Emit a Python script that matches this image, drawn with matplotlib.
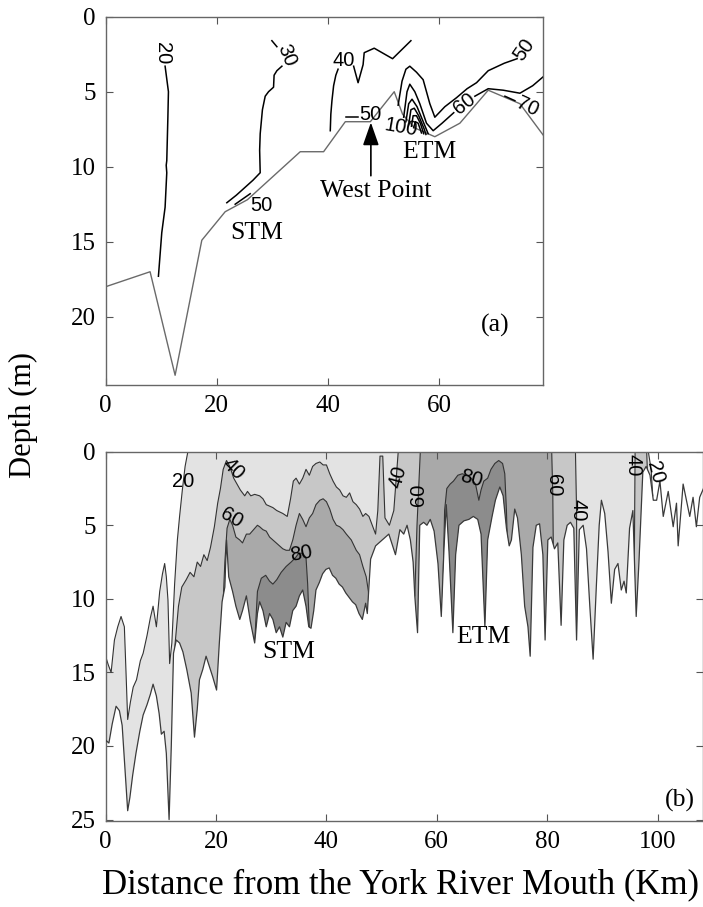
import numpy as np
import matplotlib
matplotlib.use('Agg')
import matplotlib.pyplot as plt
from matplotlib.patches import Polygon

plt.rcParams['font.family'] = 'Liberation Serif'
SANS = 'Liberation Sans'

# ---------------- panel (a): contour lines (distance km, depth m) ----------------
bathy_a = [(0.0, 18.0), (8.0, 17.0), (12.5, 23.9), (17.3, 14.9), (21.5, 13.0), (25.5, 12.2),
           (35.0, 9.0), (39.2, 9.0), (43.1, 7.0), (47.6, 7.0), (51.9, 5.0), (53.4, 6.5),
           (55.5, 7.4), (59.2, 8.0), (63.7, 7.1), (68.8, 4.9), (74.5, 5.8), (78.7, 7.9)]

a20 = [(10.7, 3.3), (11.3, 5.0), (11.2, 6.7), (11.0, 9.6), (10.9, 9.9), (11.0, 10.4),
       (10.7, 12.7), (10.1, 14.4), (9.5, 17.3)]
a30_top = [(29.9, 1.6), (30.8, 2.0)]
a30 = [(31.7, 3.3), (30.8, 3.6), (30.3, 3.9), (30.2, 4.7), (29.3, 5.0), (28.7, 5.3), (28.2, 6.2),
       (28.0, 7.0), (27.8, 7.8), (27.7, 8.9), (27.8, 10.4), (26.5, 10.9), (25.0, 11.4),
       (23.5, 11.9), (21.8, 12.4)]
a50_stm = [(23.3, 12.5), (26.0, 11.8)]
a40_left = [(40.4, 7.6), (40.5, 6.5), (40.7, 5.6), (41.0, 4.6), (41.4, 3.9), (41.8, 3.5)]
a40_right = [(44.6, 3.3), (45.4, 4.4), (46.3, 3.2), (46.5, 2.4), (48.3, 2.1), (51.6, 2.8), (54.9, 1.6)]
a50_dash = [(43.2, 6.7), (45.4, 6.7)]
a50 = [(52.6, 5.9), (53.3, 4.3), (54.0, 3.5), (54.7, 3.3), (55.9, 3.7), (57.1, 4.2), (57.7, 5.0),
       (58.3, 5.8), (59.2, 6.7), (61.0, 6.0), (63.1, 5.4), (65.0, 4.8), (66.7, 4.4), (68.8, 3.6),
       (71.7, 3.1), (74.0, 2.8)]
a60_left = [(53.6, 6.7), (54.2, 5.0), (54.7, 4.5), (55.6, 5.0), (56.5, 5.8), (57.7, 7.1),
            (58.9, 7.6), (60.5, 7.1), (62.6, 6.4)]
a60_right = [(66.4, 5.3), (68.8, 4.8), (71.5, 4.9), (74.5, 5.1), (76.8, 4.6), (78.7, 4.0)]
a70_dash = [(71.8, 5.3), (73.6, 5.6)]
a70 = [(54.0, 7.0), (54.5, 5.8), (55.1, 5.5), (56.0, 6.0), (57.0, 6.9), (58.0, 7.8)]
a80 = [(54.5, 7.2), (54.9, 6.2), (55.5, 6.1), (56.3, 6.6), (57.3, 7.5), (57.6, 7.85)]
a90 = [(55.0, 7.3), (55.3, 6.6), (55.9, 6.6), (56.6, 7.1), (57.2, 7.8)]
a100 = [(55.4, 7.4), (55.7, 7.0), (56.2, 7.1), (56.8, 7.75)]

# label text, x, depth, rotation
labels_a = [('20', 10.2, 2.4, -90), ('30', 32.5, 2.6, -68), ('40', 42.9, 2.9, 0),
            ('50', 47.7, 6.5, 0), ('50', 28.0, 12.6, 0), ('100', 53.1, 7.4, -10),
            ('60', 64.6, 5.8, 38), ('50', 75.3, 2.2, 55), ('70', 75.9, 6.0, -25)]

# ---------------- panel (b): filled contours ----------------
bottom_b = [(0.0, 19.6), (0.6, 19.8), (1.2, 18.5), (1.9, 17.3), (2.5, 17.6), (3.0, 18.6), (3.5, 21.5),
            (4.0, 24.4), (4.4, 23.5), (4.9, 22.0), (5.5, 20.5), (6.2, 19.0), (6.8, 17.9), (7.5, 17.2),
            (8.1, 16.5), (8.6, 15.8), (9.2, 16.6), (9.7, 17.8), (10.1, 19.2), (10.6, 19.0), (11.0, 20.5),
            (11.5, 25.0), (11.9, 20.0), (12.3, 13.7), (12.8, 12.8), (13.4, 13.0), (14.0, 13.6),
            (14.7, 14.8), (15.5, 16.4), (16.1, 19.4), (16.6, 17.5), (17.0, 15.5), (17.6, 14.8),
            (18.2, 13.9), (18.8, 14.6), (19.4, 15.3), (20.1, 16.2), (20.6, 13.0), (21.1, 10.2),
            (21.6, 9.2), (21.9, 6.0), (22.3, 8.5), (23.0, 9.5), (23.6, 10.5), (24.3, 11.4),
            (24.8, 10.8), (25.5, 9.8), (26.2, 11.5), (27.0, 13.0), (27.5, 11.0), (27.9, 10.2),
            (28.5, 10.8), (29.1, 11.9), (29.7, 11.0), (30.3, 11.4), (30.9, 12.3), (31.5, 11.9),
            (32.1, 12.6), (32.7, 11.6), (33.3, 11.9), (33.9, 10.8), (34.5, 10.5), (35.1, 9.8),
            (35.7, 9.4), (36.3, 10.5), (36.8, 11.9), (37.2, 12.0), (37.7, 10.8), (38.1, 9.4),
            (38.7, 8.9), (39.3, 8.3), (39.9, 8.0), (40.5, 7.9), (41.1, 8.4), (41.7, 8.6),
            (42.3, 9.0), (42.9, 9.2), (43.5, 9.6), (44.1, 9.9), (44.7, 10.2), (45.3, 10.4),
            (45.9, 11.0), (46.5, 11.4), (47.1, 10.3), (47.4, 11.0), (48.0, 7.3), (48.9, 6.4),
            (49.5, 6.2), (50.1, 6.0), (50.7, 5.8), (51.3, 5.6), (51.9, 6.3), (52.5, 7.0),
            (53.3, 5.3), (54.0, 5.6), (54.6, 5.0), (55.2, 6.0), (55.7, 7.5), (56.0, 9.8),
            (56.5, 12.3), (56.9, 5.0), (57.6, 4.8), (58.2, 5.0), (58.8, 4.6), (59.5, 5.4),
            (60.2, 7.6), (60.8, 11.2), (61.3, 6.5), (61.7, 3.6), (62.2, 6.8), (62.9, 12.3),
            (63.4, 7.0), (64.0, 5.0), (64.9, 4.7), (65.8, 4.6), (66.6, 4.4), (67.4, 4.6),
            (68.0, 5.6), (68.7, 11.9), (69.2, 6.0), (70.0, 4.4), (70.6, 3.3), (71.4, 2.4),
            (72.0, 3.0), (72.6, 5.2), (73.1, 6.4), (73.5, 6.0), (74.1, 3.9), (74.6, 4.5),
            (75.3, 7.0), (75.9, 10.5), (76.5, 11.9), (76.9, 13.9), (77.4, 6.5), (78.0, 5.0),
            (78.6, 4.9), (79.2, 7.0), (79.6, 12.8), (80.1, 6.0), (80.7, 5.8), (81.3, 6.6),
            (81.9, 6.2), (82.5, 11.8), (83.0, 6.0), (83.6, 5.0), (84.2, 4.8), (84.8, 5.2),
            (85.3, 12.8), (85.8, 5.3), (86.5, 5.0), (87.1, 6.6), (87.7, 10.5), (88.3, 14.1),
            (88.9, 9.0), (89.4, 5.0), (89.8, 3.3), (90.4, 4.2), (91.0, 6.8), (91.6, 10.3),
            (92.2, 8.0), (92.8, 7.6), (93.4, 9.4), (93.9, 8.8), (94.3, 9.6), (94.9, 5.2),
            (95.5, 4.0), (96.1, 11.2), (96.6, 7.5), (97.3, 1.4), (97.9, 1.0), (98.6, 1.6),
            (99.2, 3.3), (99.8, 3.3), (100.4, 2.0), (101.0, 4.4), (101.9, 2.7), (102.8, 5.1),
            (103.4, 3.5), (103.7, 6.4), (104.6, 2.2), (105.2, 3.3), (105.8, 4.4), (106.4, 3.1),
            (107.0, 5.1), (107.6, 3.1), (108.4, 2.4)]

b20_left = [(0.0, 13.9), (0.5, 14.5), (1.0, 15.0), (1.6, 12.8), (2.2, 11.9), (2.8, 11.2), (3.4, 11.9),
            (3.7, 15.0), (4.0, 18.2), (4.5, 17.0), (5.0, 16.0), (5.6, 15.5), (6.3, 14.2), (6.8, 13.7),
            (7.5, 12.5), (8.1, 11.3), (8.6, 10.5), (9.2, 11.9), (9.8, 9.5), (10.3, 8.3), (10.7, 7.6),
            (11.0, 8.5), (11.3, 10.1), (11.6, 14.4), (12.0, 13.0), (12.5, 9.0), (13.0, 6.0),
            (13.4, 4.4), (13.9, 2.6), (14.4, 1.0), (14.9, 0.0)]
b20_right = [(98.3, 0.0), (98.8, 1.2), (99.1, 3.0)]

b40_main = [(12.3, 16.0), (12.6, 13.0), (13.2, 10.5), (13.8, 9.2), (14.6, 8.7), (15.3, 8.2), (16.0, 8.5),
            (16.6, 7.5), (17.2, 7.8), (17.8, 7.0), (18.4, 7.4), (19.0, 6.5), (19.7, 5.1), (20.3, 3.5),
            (20.8, 2.5), (21.3, 1.2), (21.9, 0.6), (22.5, 1.0), (23.2, 1.8), (23.8, 2.2), (24.4, 2.6),
            (25.2, 3.0), (25.7, 2.7), (26.3, 3.0), (27.0, 2.9), (27.9, 3.0), (28.5, 3.2), (29.1, 3.6),
            (30.3, 3.8), (31.0, 4.0), (32.1, 4.2), (32.9, 4.4), (33.5, 3.2), (34.0, 2.0), (34.5, 1.8),
            (35.1, 2.2), (35.7, 1.8), (36.3, 1.2), (36.9, 1.6), (37.5, 1.0), (38.1, 0.8), (38.8, 0.7),
            (39.4, 0.9), (40.0, 0.9), (40.6, 1.5), (41.2, 2.0), (41.8, 2.4), (42.4, 2.6), (43.0, 3.0),
            (43.6, 3.1), (44.2, 2.8), (44.8, 3.4), (45.4, 3.6), (46.0, 3.9), (46.6, 4.4), (47.1, 4.2),
            (47.7, 4.4), (48.3, 5.0), (48.9, 5.6), (49.3, 4.0), (49.7, 0.3), (50.2, 0.3), (50.6, 4.5),
            (51.4, 5.0), (52.2, 4.0), (52.7, 1.5), (53.0, 0.0)]
b40_right = [(85.1, 0.0), (85.3, 4.0), (85.4, 12.8)]
b40_patch_l = [(95.7, 11.0), (95.9, 0.0)]
b40_patch_r = [(98.0, 0.0), (98.2, 2.0)]

b60_stm = [(21.2, 11.0), (21.6, 7.5), (22.0, 5.2), (22.5, 4.6), (23.0, 5.0), (23.6, 5.8), (24.3, 6.0),
           (24.8, 6.2), (25.5, 5.6), (26.1, 5.6), (26.8, 5.3), (27.5, 5.0), (27.9, 5.1), (28.5, 5.3),
           (29.1, 5.4), (29.7, 5.8), (30.3, 6.0), (31.2, 6.3), (32.1, 6.6), (32.7, 6.7), (33.3, 6.7),
           (33.9, 6.0), (34.5, 5.0), (35.1, 4.2), (35.7, 4.6), (36.3, 5.1), (36.9, 4.5), (37.5, 4.2),
           (38.1, 3.6), (38.8, 3.3), (39.4, 3.2), (40.0, 3.4), (40.6, 3.9), (41.2, 4.6), (41.8, 5.0),
           (42.4, 5.1), (43.0, 5.3), (43.6, 5.6), (44.5, 6.0), (45.4, 6.7), (46.0, 7.0), (46.6, 7.8),
           (47.2, 8.5), (47.6, 9.5), (48.0, 12.0)]
b60_etm_l = [(56.0, 9.8), (56.4, 5.0), (56.7, 2.5), (57.0, 0.0)]
b60_etm_r = [(80.8, 0.0), (81.0, 3.0), (81.1, 7.0)]

b80_stm = [(27.0, 13.0), (27.5, 9.5), (28.2, 8.6), (29.0, 8.4), (29.7, 8.8), (30.3, 9.0), (31.0, 8.7),
           (31.8, 8.2), (32.7, 7.8), (33.6, 7.5), (34.4, 7.2), (35.0, 6.9), (35.7, 6.9), (36.3, 7.2),
           (36.6, 9.0), (36.9, 12.0)]
b80_etm = [(61.0, 11.0), (61.4, 4.0), (61.8, 2.5), (62.4, 2.2), (63.0, 2.0), (63.8, 1.6), (64.6, 1.5),
           (65.4, 1.6), (66.2, 1.8), (67.0, 2.2), (67.6, 3.3), (68.0, 2.6), (68.5, 2.0), (69.2, 1.8),
           (69.8, 1.2), (70.5, 0.8), (71.2, 0.6), (71.9, 0.8), (72.3, 1.5), (72.6, 4.0), (72.9, 8.0)]

labels_b = [('20', 14.1, 2.0, 0), ('40', 23.1, 1.2, -45), ('60', 22.8, 4.5, -30), ('80', 35.5, 6.9, 10),
            ('40', 53.0, 1.7, 75), ('60', 56.7, 2.9, 90), ('80', 66.3, 1.8, -15), ('60', 81.1, 2.3, -90),
            ('40', 85.6, 4.0, -90), ('40', 95.6, 0.9, -90), ('20', 99.5, 1.4, -75)]

shade = {'20': '#e3e3e3', '40': '#c7c7c7', '60': '#a9a9a9', '80': '#8c8c8c'}


def xy(p):
    a = np.array(p, dtype=float)
    return a[:, 0], a[:, 1]


def style(ax):
    ax.tick_params(direction='in', top=True, right=True, length=5, width=0.8,
                   color='#555555', labelsize=18, pad=7)
    for s in ax.spines.values():
        s.set_color('#666666')
        s.set_linewidth(1.0)


fig = plt.figure(figsize=(7.03, 9.07), dpi=100)

# ---------- (a) ----------
axa = fig.add_axes([0.1502, 0.5755, 0.6226, 0.4061])
x, d = xy(bathy_a)
axa.plot(x, d, color='#6a6a6a', lw=1.0)
for seg in [a20, a30_top, a30, a50_stm, a40_left, a40_right, a50_dash, a50,
            a60_left, a60_right, a70_dash, a70, a80, a90, a100]:
    x, d = xy(seg)
    axa.plot(x, d, color='black', lw=1.1)
for t, lx, ld, r in labels_a:
    axa.text(lx, ld, t, family=SANS, fontsize=14.5, rotation=r, ha='center', va='center')
axa.annotate('', xy=(47.7, 7.05), xytext=(47.7, 10.6),
             arrowprops=dict(arrowstyle='-|>,head_length=1.0,head_width=0.35', color='black',
                             lw=1.2, mutation_scale=14, shrinkA=0, shrinkB=0))
axa.text(48.5, 11.6, 'West Point', fontsize=18.5, ha='center', va='center')
axa.text(27.2, 14.4, 'STM', fontsize=18.5, ha='center', va='center')
axa.text(58.2, 9.0, 'ETM', fontsize=18.5, ha='center', va='center')
axa.text(70.0, 20.6, '(a)', fontsize=18.5, ha='center', va='center')
axa.set_xlim(0, 78.7)
axa.set_ylim(24.55, 0)
axa.set_xticks([0, 20, 40, 60])
axa.set_yticks([0, 5, 10, 15, 20])
style(axa)

# ---------- (b) ----------
axb = fig.add_axes([0.1502, 0.0948, 0.8498, 0.4072])
bx, bd = xy(bottom_b)
water_verts = np.vstack([[[bx[0], -1.0], [bx[-1], -1.0]], np.column_stack([bx[::-1], bd[::-1]])])
water = Polygon(water_verts, closed=True, transform=axb.transData)


def region(pieces, color, deep=30.0):
    pts = np.vstack([np.array(p, dtype=float) for p in pieces])
    verts = np.vstack([[pts[0, 0], deep], pts, [pts[-1, 0], deep]])
    poly = Polygon(verts, closed=True, facecolor=color, edgecolor='none', zorder=1)
    axb.add_patch(poly)
    poly.set_clip_path(water)


region([b20_left, b20_right], shade['20'])
region([b40_main, b40_right], shade['40'])
region([b40_patch_l, b40_patch_r], shade['40'])
region([b60_stm], shade['60'])
region([b60_etm_l, b60_etm_r], shade['60'])
region([b80_stm], shade['80'])
region([b80_etm], shade['80'])

for seg in [b20_left, b20_right, b40_main, b40_right, b40_patch_l, b40_patch_r, b60_stm,
            b60_etm_l, b60_etm_r, b80_stm, b80_etm]:
    x, d = xy(seg)
    ln, = axb.plot(x, d, color='#333333', lw=0.8, zorder=2)
    ln.set_clip_path(water)

axb.plot(bx, bd, color='#3a3a3a', lw=0.9, zorder=3)
for t, lx, ld, r in labels_b:
    axb.text(lx, ld, t, family=SANS, fontsize=14.5, rotation=r, ha='center', va='center', zorder=4)
axb.text(33.2, 13.6, 'STM', fontsize=18.5, ha='center', va='center')
axb.text(68.4, 12.6, 'ETM', fontsize=18.5, ha='center', va='center')
axb.text(104.0, 23.7, '(b)', fontsize=18.5, ha='center', va='center')
axb.set_xlim(0, 108.2)
axb.set_ylim(25.1, 0)
axb.set_xticks([0, 20, 40, 60, 80, 100])
axb.set_yticks([0, 5, 10, 15, 20, 25])
style(axb)

fig.text(0.033, 0.5424, 'Depth (m)', rotation=90, fontsize=22, ha='center', va='center')
fig.text(0.569, 0.0243, 'Distance from the York River Mouth (Km)', fontsize=25, ha='center', va='center')

fig.savefig('out.png', dpi=100)
